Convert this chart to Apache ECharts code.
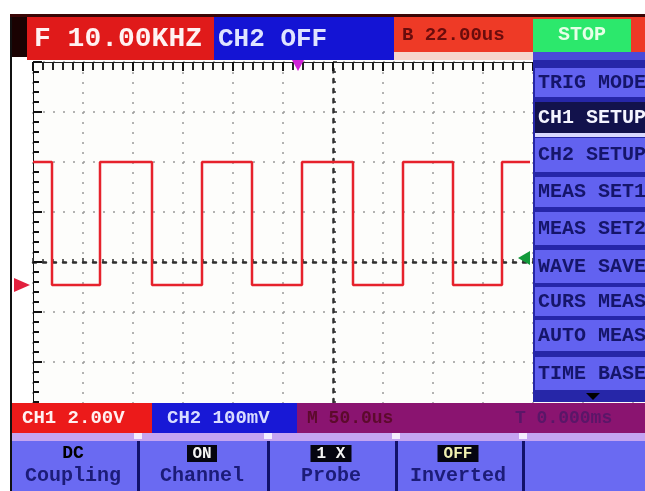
<!DOCTYPE html>
<html><head><meta charset="utf-8">
<script src="https://cdn.jsdelivr.net/npm/echarts@6/dist/echarts.min.js"></script>
<style>html,body{margin:0;padding:0;background:#fff}#c{width:645px;height:491px}</style>
</head><body><div id="c"></div>
<script>
// ---- data ----
const edgeTimes  = [0, 19, 67, 119, 169, 219, 269, 320, 370, 420, 469, 497]; // µs, 50 µs/div
const edgeLevels = [4.92, 0, 4.92, 0, 4.92, 0, 4.92, 0, 4.92, 0, 4.92, 4.92]; // V, 2 V/div
const headerTexts = ['F 10.00KHZ', 'CH2 OFF', 'B 22.00us', 'STOP'];
const statusTexts = ['CH1 2.00V', 'CH2 100mV', 'M 50.0us', 'T 0.000ms'];
const menuItems = ['TRIG MODE', 'CH1 SETUP', 'CH2 SETUP', 'MEAS SET1', 'MEAS SET2', 'WAVE SAVE', 'CURS MEAS', 'AUTO MEAS', 'TIME BASE'];
const softKeyValues = ['DC', 'ON', '1 X', 'OFF'];
const softKeyNames = ['Coupling', 'Channel', 'Probe', 'Inverted'];
const ch1Ground = 0;      // V
const trigLevel = 1.08;   // V
const trigTime = 265;     // µs

const chart = echarts.init(document.getElementById('c'), null, {renderer: 'canvas'});
const MONO = '"Liberation Mono","DejaVu Sans Mono",monospace';

function rect(x, y, w, h, fill, z) { return {type: 'rect', z: z || 100, silent: true, shape: {x, y, width: w, height: h}, style: {fill}}; }
function txt(x, y, s, size, fill, align, bold, z) {
  return {type: 'text', z: z || 110, silent: true, x, y,
    style: {text: s, fill, font: (bold === false ? '' : 'bold ') + size + 'px ' + MONO, align: align || 'left', verticalAlign: 'middle'}};
}

const g = [];
// frame
g.push(rect(10, 14, 2, 477, '#111'));
g.push(rect(10, 14, 635, 3, '#3a0606'));
// header
g.push(rect(12, 17, 15, 40, '#1a0202'));
g.push(rect(27, 17, 187, 43, '#e01a1a'));
g.push(rect(214, 17, 180, 43, '#1414d4'));
g.push(rect(394, 17, 251, 35, '#ee3a26'));
g.push(rect(394, 52, 139, 8, '#f6d6cc'));
g.push(rect(533, 19, 98, 33, '#2ce86c'));
g.push(rect(533, 52, 112, 10, '#4a4ad8'));
g.push(txt(34, 39, headerTexts[0], 28, '#fff2f2'));
g.push(txt(218, 39, headerTexts[1], 26, '#dfe4ff'));
g.push(txt(402, 35, headerTexts[2], 19, '#6a0c0c'));
g.push(txt(582, 35, headerTexts[3], 20, '#e6ffe6', 'center'));

// right menu
g.push(rect(533, 60, 112, 342, '#2626a8'));
const itemBoxes = [[68, 29], [102, 31], [138, 34], [177, 30], [212, 33], [250, 33], [287, 29], [320, 31], [357, 33]];
menuItems.forEach((m, i) => {
  const [y, h] = itemBoxes[i];
  const sel = i === 1;
  g.push(rect(535, y, 110, h, sel ? '#12124c' : '#6262f0'));
  g.push(txt(538, y + h / 2, m, 20, sel ? '#f4f4ff' : '#15156a'));
});
g.push(rect(535, 133, 110, 4, '#d8d8ff'));
g.push({type: 'polygon', z: 105, silent: true, shape: {points: [[586, 393], [600, 393], [593, 400]]}, style: {fill: '#000'}});

// status bar
g.push(rect(12, 403, 140, 30, '#ec1a1a'));
g.push(rect(152, 403, 145, 30, '#1818d6'));
g.push(rect(297, 403, 348, 30, '#8a1470'));
g.push(txt(22, 418, statusTexts[0], 19, '#fff0f0'));
g.push(txt(167, 418, statusTexts[1], 19, '#d8dcff'));
g.push(txt(307, 418, statusTexts[2], 18, '#5c0a2c'));
g.push(txt(515, 418, statusTexts[3], 18, '#5a1668'));
// soft keys
g.push(rect(12, 433, 633, 8, '#c4a4f2'));
g.push(rect(12, 441, 633, 50, '#6a6af2'));
const seps = [137, 267, 395, 522];
seps.forEach(x => { g.push(rect(x, 441, 3, 50, '#12126a')); g.push(rect(x - 3, 433, 8, 6, '#f4eeff', 101)); });
const keyCenters = [73, 202, 331, 458];
softKeyValues.forEach((v, i) => {
  if (i === 0) {
    g.push(txt(keyCenters[i], 453, v, 18, '#000', 'center'));
  } else {
    const w = v.length * 11 + 8;
    g.push(rect(keyCenters[i] - w / 2, 445, w, 17, '#050510', 105));
    g.push(txt(keyCenters[i], 453.5, v, 16, i === 3 ? '#f0f0b0' : '#f4f4f4', 'center'));
  }
  g.push(txt(keyCenters[i], 476, softKeyNames[i], 20, '#1c1c78', 'center'));
});

const gridAxisCommon = {axisLabel: {show: false}, splitLine: {show: true, lineStyle: {color: '#9a9a9a', width: 1.5, type: [2, 8]}}};

chart.setOption({
  animation: false,
  backgroundColor: '#ffffff',
  grid: {left: 33, top: 62, width: 600, height: 400, backgroundColor: '#fdfdfb', show: true, borderWidth: 0},
  xAxis: [
    Object.assign({type: 'value', min: -6, max: 6, interval: 1, position: 'bottom',
      axisLine: {show: true, onZero: true, onZeroAxisIndex: 0, lineStyle: {color: '#303030', width: 2.5, type: [3, 7]}},
      axisTick: {show: true, inside: true, length: 4, lineStyle: {color: '#303030', width: 1.5}},
      minorTick: {show: true, splitNumber: 5, length: 3, lineStyle: {color: '#303030', width: 1.5}}}, gridAxisCommon),
    {type: 'value', min: 0, max: 600, interval: 50, position: 'top',
      axisLine: {show: true, onZero: false, lineStyle: {color: '#222', width: 1}},
      axisTick: {show: true, inside: true, length: 9, lineStyle: {color: '#111', width: 2}},
      minorTick: {show: true, splitNumber: 5, length: 8, lineStyle: {color: '#222', width: 2}},
      splitLine: {show: false}, axisLabel: {show: false}}
  ],
  yAxis: [
    Object.assign({type: 'value', min: -4, max: 4, interval: 1, position: 'left',
      axisLine: {show: true, onZero: true, onZeroAxisIndex: 0, lineStyle: {color: '#303030', width: 2.5, type: [3, 7]}},
      axisTick: {show: true, inside: true, length: 4, lineStyle: {color: '#303030', width: 1.5}},
      minorTick: {show: true, splitNumber: 5, length: 3, lineStyle: {color: '#303030', width: 1.5}}}, gridAxisCommon),
    {type: 'value', min: -7.08, max: 8.92, interval: 2, position: 'left',
      axisLine: {show: true, onZero: false, lineStyle: {color: '#111', width: 1}},
      axisTick: {show: true, inside: true, length: 9, lineStyle: {color: '#111', width: 2}},
      minorTick: {show: true, splitNumber: 5, length: 6, lineStyle: {color: '#111', width: 2}},
      splitLine: {show: false}, axisLabel: {show: false}}
  ],
  series: [{
    type: 'line', xAxisIndex: 1, yAxisIndex: 1, step: 'end', showSymbol: false, z: 5,
    lineStyle: {color: '#e6222c', width: 2.5},
    data: edgeTimes.map((t, i) => [t, edgeLevels[i]])
  }],
  graphic: g
});

// channel / trigger markers placed through the axes' own scales
const gp = chart.convertToPixel({xAxisIndex: 1, yAxisIndex: 1}, [0, ch1Ground]);
const tp = chart.convertToPixel({xAxisIndex: 1, yAxisIndex: 1}, [trigTime, trigLevel]);
const rp = chart.convertToPixel({xAxisIndex: 1, yAxisIndex: 1}, [497, trigLevel]);
g.push({type: 'polygon', z: 120, silent: true, shape: {points: [[14, gp[1] - 7], [30, gp[1]], [14, gp[1] + 7]]}, style: {fill: '#e2203e'}});
g.push({type: 'polygon', z: 120, silent: true, shape: {points: [[tp[0] - 6, 60], [tp[0] + 6, 60], [tp[0], 71]]}, style: {fill: '#d020d8'}});
g.push({type: 'polygon', z: 120, silent: true, shape: {points: [[rp[0] - 12, rp[1]], [rp[0], rp[1] - 7], [rp[0], rp[1] + 7]]}, style: {fill: '#129a3a'}});
chart.setOption({graphic: g});
</script>
</body></html>
